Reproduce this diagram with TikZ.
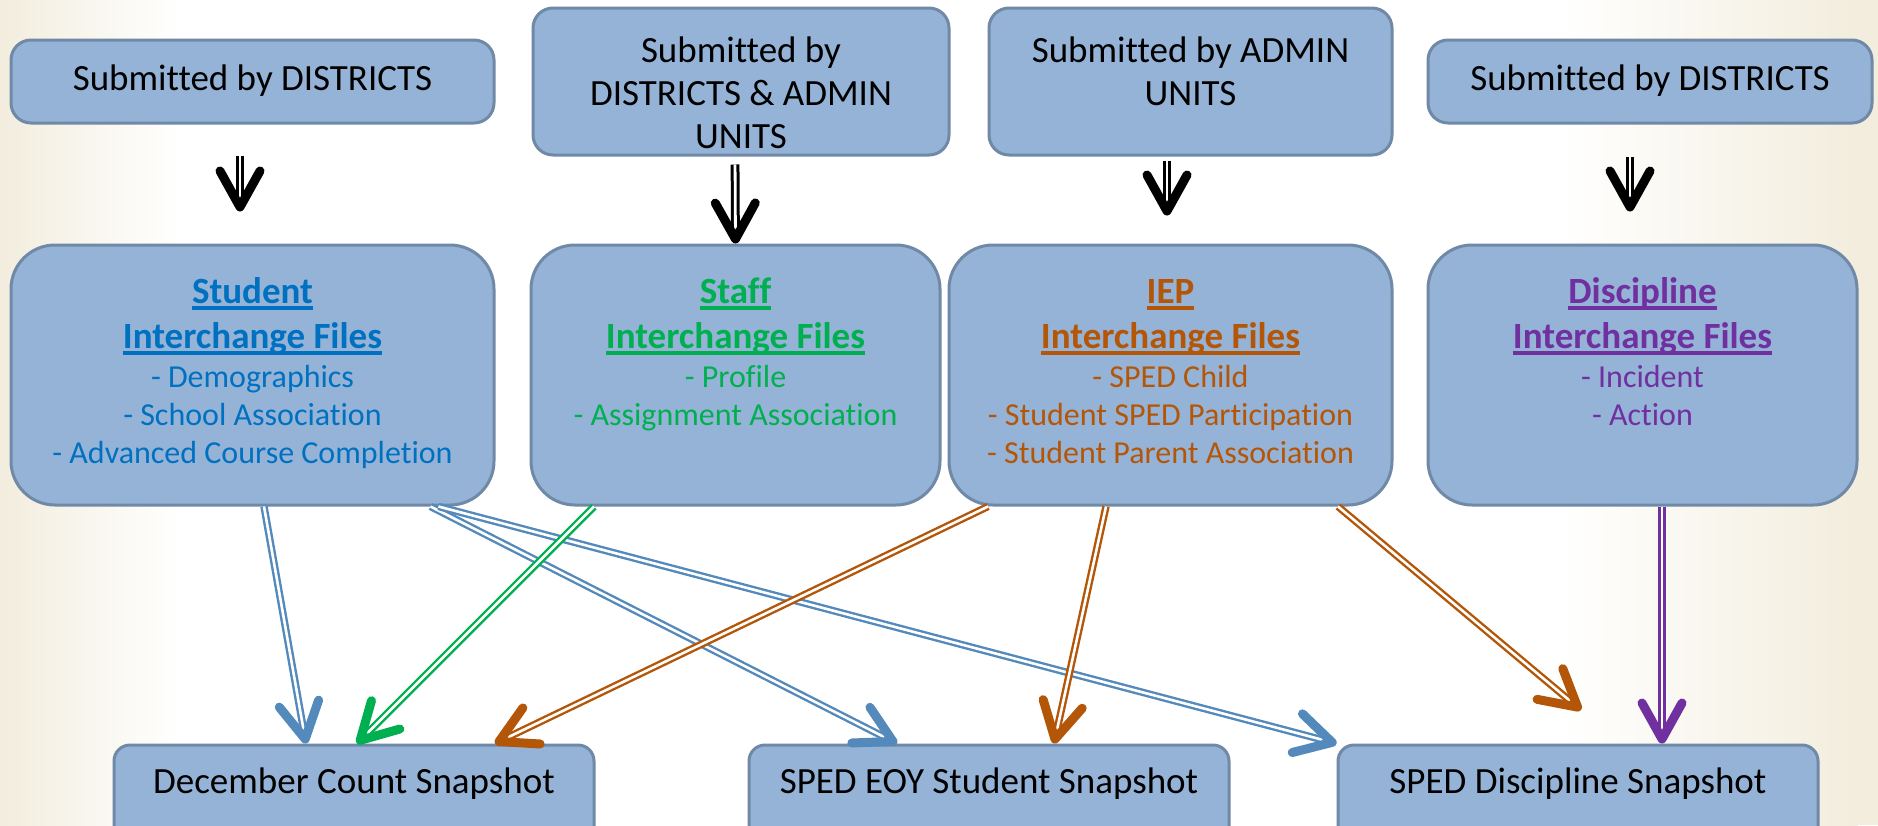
\documentclass[tikz,border=0pt]{standalone}
\usepackage{fontspec}
\setmainfont{Carlito}[Ligatures=CommonOff]
\usetikzlibrary{arrows.meta}

\definecolor{boxfill}{RGB}{149,179,215}
\definecolor{boxline}{RGB}{111,137,166}
\definecolor{cream}{RGB}{242,237,221}
\definecolor{stublue}{RGB}{0,112,192}
\definecolor{stfgreen}{RGB}{0,176,80}
\definecolor{iepbrown}{RGB}{180,86,8}
\definecolor{dispurple}{RGB}{112,48,160}
\definecolor{arrblue}{RGB}{84,137,187}

\newsavebox{\ulbox}
\newcommand{\ulhead}[1]{\sbox{\ulbox}{#1}\rlap{\rule[-3.6pt]{\wd\ulbox}{2pt}}\usebox{\ulbox}}
\newcommand{\filehead}[1]{{\fontsize{18.5}{22}\selectfont\bfseries\ulhead{#1}}}

\begin{document}
\begin{tikzpicture}[x=0.5pt,y=-0.5pt,
    topbox/.style={draw=boxline,fill=boxfill,line width=1.5pt,rounded corners=10pt,
      inner ysep=0pt,align=center,anchor=base,font=\fontsize{18.5}{21.5}\selectfont},
    filebox/.style={topbox,rounded corners=22pt,font=\fontsize{16}{19}\selectfont},
    snapbox/.style={topbox,rounded corners=8pt,minimum width=240pt,text height=24pt,text depth=30pt},
    feed/.style={draw=black,double=white,line width=1.5pt,double distance=1.4pt,
      -{Straight Barb[length=18pt,width=20pt,line width=4.5pt,round]}},
    linkarrow/.style={feed,draw=#1,line width=1.2pt,double distance=1.3pt}]
    \useasboundingbox (0,0) rectangle (1878,825);
    \clip (0,0) rectangle (1878,825);
    % background
    \fill[white] (0,0) rectangle (1878,825);
    \shade[left color=cream,right color=white] (0,0) rectangle (180,825);
    \shade[left color=white,right color=cream] (1560,0) rectangle (1858,825);
    \fill[cream] (1858,0) rectangle (1878,825);
    % who submits (base = last line)
    \node[topbox,minimum width=241.5pt,text height=25pt,text depth=16.5pt] (subA) at (252.5,90) {Submitted by DISTRICTS};
    \node[topbox,minimum width=208pt,text height=70pt,text depth=3.5pt] (subAB) at (741,148) {Submitted by\\DISTRICTS \& ADMIN\\UNITS};
    \node[topbox,minimum width=201.5pt,text height=48.5pt,text depth=25pt] (subAdm) at (1190.5,105) {Submitted by ADMIN\\UNITS};
    \node[topbox,minimum width=222pt,text height=25pt,text depth=16.5pt] (subB) at (1650,90) {Submitted by DISTRICTS};
    % interchange files
    \node[filebox,minimum width=241.5pt,text height=109pt,text depth=21pt,text=stublue] (stuFiles) at (252.5,463)
      {\filehead{Student}\\[3.5pt]\filehead{Interchange Files}\\[0.5pt]- Demographics\\- School Association\\- Advanced Course Completion};
    \node[filebox,minimum width=204.5pt,text height=90pt,text depth=40pt,text=stfgreen] (stfFiles) at (735.5,425)
      {\filehead{Staff}\\[3.5pt]\filehead{Interchange Files}\\[0.5pt]- Profile\\- Assignment Association};
    \node[filebox,minimum width=221.5pt,text height=109pt,text depth=21pt,text=iepbrown] (iepFiles) at (1170.5,463)
      {\filehead{IEP}\\[3.5pt]\filehead{Interchange Files}\\[0.5pt]- SPED Child\\- Student SPED Participation\\- Student Parent Association};
    \node[filebox,minimum width=214.5pt,text height=90pt,text depth=40pt,text=dispurple] (disFiles) at (1642.5,425)
      {\filehead{Discipline}\\[3.5pt]\filehead{Interchange Files}\\[0.5pt]- Incident\\- Action};
    % snapshots
    \node[snapbox] (decSnap) at (354,793) {December Count Snapshot};
    \node[snapbox] (eoySnap) at (989,793) {SPED EOY Student Snapshot};
    \node[snapbox] (disSnap) at (1578,793) {SPED Discipline Snapshot};
    \coordinate (iepEnd) at (1581,710);
    % submit arrows
    \draw[feed,shorten <=15.5pt,shorten >=16pt] ([xshift=-6.25pt]subA.south) -- ([xshift=-6.25pt]stuFiles.north);
    \draw[feed,shorten <=4pt] ([xshift=-3pt]subAB.south) -- (stfFiles.north);
    \draw[feed,shorten <=2pt,shorten >=14pt] ([xshift=-11.75pt]subAdm.south) -- ([xshift=-1.75pt]iepFiles.north);
    \draw[feed,shorten <=16pt,shorten >=16pt] ([xshift=-10pt]subB.south) -- ([xshift=-6.25pt]disFiles.north);
    % file to snapshot arrows
    \draw[linkarrow=arrblue] ([xshift=5.75pt]stuFiles.south) -- ([xshift=-24pt]decSnap.north);
    \draw[linkarrow=arrblue] ([xshift=89pt]stuFiles.south) -- ([xshift=-46pt]eoySnap.north);
    \draw[linkarrow=arrblue] ([xshift=93pt]stuFiles.south) -- (disSnap.north west);
    \draw[linkarrow=stfgreen] ([xshift=-70.75pt]stfFiles.south) -- ([xshift=1.5pt]decSnap.north);
    \draw[linkarrow=iepbrown] ([xshift=-91.25pt]iepFiles.south) -- ([xshift=70.5pt]decSnap.north);
    \draw[linkarrow=iepbrown] ([xshift=-32.25pt]iepFiles.south) -- ([xshift=32.5pt]eoySnap.north);
    \draw[linkarrow=iepbrown] ([xshift=83.75pt]iepFiles.south) -- (iepEnd);
    \draw[linkarrow=dispurple] ([xshift=9.75pt]disFiles.south) -- ([xshift=42pt]disSnap.north);
\end{tikzpicture}
\end{document}
